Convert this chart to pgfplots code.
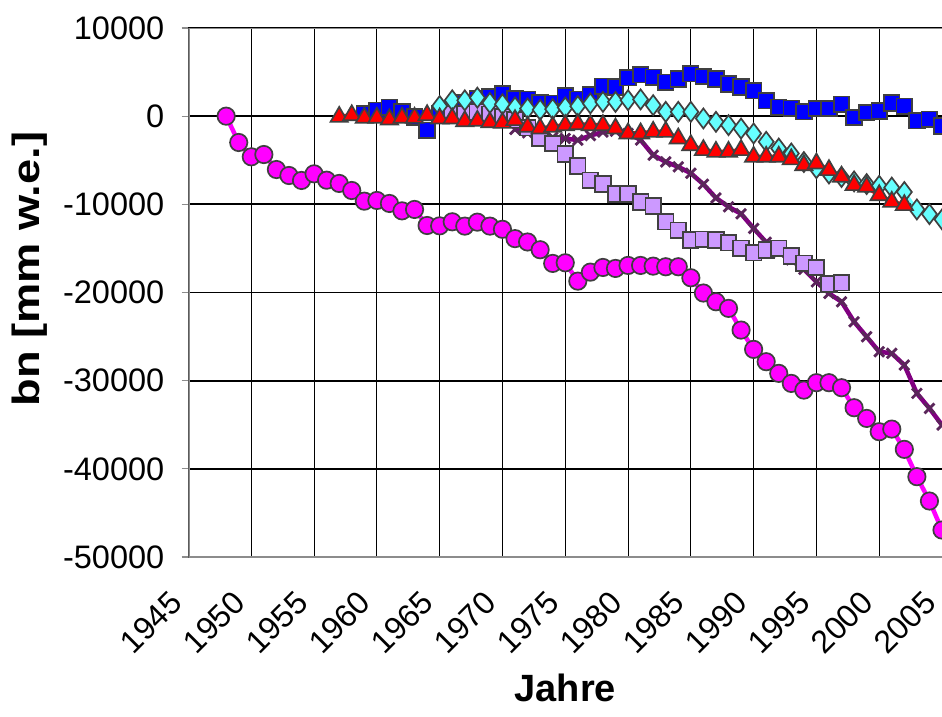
\documentclass[border=0pt]{standalone}
\usepackage{pgfplots}
\pgfplotsset{compat=1.18}
\usepackage{fontspec}
\setmainfont{Liberation Sans}
\definecolor{mag}{HTML}{FF00FF}
\definecolor{blu}{HTML}{0000FF}
\definecolor{cya}{HTML}{66FFFF}
\definecolor{rd}{HTML}{FF0000}
\definecolor{lav}{HTML}{CC99FF}
\definecolor{pur}{HTML}{800080}
\definecolor{edge}{HTML}{404040}
\definecolor{frame}{HTML}{8C8C8C}
\begin{document}
\begin{tikzpicture}
\begin{axis}[
  at={(0,0)}, anchor=south west,
  scale only axis, width=753.5pt, height=529pt,
  xmin=1945, xmax=2005, ymin=-50000, ymax=10000,
  clip mode=global,
  axis line style={draw=none},
  xtick={1945,1950,...,2005},
  xticklabels={1945,1950,1955,1960,1965,1970,1975,1980,1985,1990,1995,2000,2005},
  ytick={-50000,-40000,-30000,-20000,-10000,0,10000},
  yticklabels={-50000,-40000,-30000,-20000,-10000,0,10000},
  scaled y ticks=false, scaled x ticks=false,
  tick align=outside, major tick length=7pt,
  xtick style={draw=none},
  ytick style={draw=frame, line width=1.2pt},
  xmajorgrids, ymajorgrids,
  major x grid style={black, line width=1pt},
  major y grid style={black, line width=1.8pt},
  yticklabel style={font=\fontsize{32.5}{32.5}\selectfont, anchor=east, inner sep=0pt, xshift=-17pt},
  xticklabel style={font=\fontsize{32}{32}\selectfont, xshift=-12pt, yshift=-33pt, rotate=45, anchor=east, inner sep=0pt},
  xlabel={Jahre},
  ylabel={\scalebox{1.19}[1]{bn [mm w.e.]}},
  label style={font=\bfseries\fontsize{38}{38}\selectfont},
  xlabel style={at={(axis description cs:0.5,-0.2476)}, anchor=center},
  ylabel style={at={(axis description cs:-0.2104,0.544)}, anchor=center},
]
% magenta circles
\addplot[mag, line width=4.5pt, mark=*, mark size=8.7pt,
  mark options={draw=edge, fill=mag, line width=1.7pt, solid}] coordinates {
(1948,0) (1949,-2985) (1950,-4610) (1951,-4350) (1952,-6050) (1953,-6730)
(1954,-7290) (1955,-6540) (1956,-7260) (1957,-7630) (1958,-8430) (1959,-9640)
(1960,-9560) (1961,-9900) (1962,-10740) (1963,-10580) (1964,-12400) (1965,-12440)
(1966,-11980) (1967,-12470) (1968,-12020) (1969,-12470) (1970,-12830) (1971,-13890)
(1972,-14270) (1973,-15150) (1974,-16700) (1975,-16630) (1976,-18710) (1977,-17690)
(1978,-17160) (1979,-17270) (1980,-16930) (1981,-16930) (1982,-17010) (1983,-17080)
(1984,-17080) (1985,-18330) (1986,-20060) (1987,-21050) (1988,-21800) (1989,-24260)
(1990,-26450) (1991,-27850) (1992,-29170) (1993,-30310) (1994,-31070) (1995,-30230)
(1996,-30230) (1997,-30800) (1998,-33070) (1999,-34280) (2000,-35790) (2001,-35490)
(2002,-37790) (2003,-40890) (2004,-43650) (2005,-46940)
};
% blue squares
\addplot[blu, line width=3pt, mark=square*, mark size=7.8pt,
  mark options={draw=edge, fill=blu, line width=1.7pt, solid}] coordinates {
(1959,300) (1960,680) (1961,990) (1962,490) (1963,-80) (1964,-1590)
(1965,300) (1966,800) (1967,1500) (1968,2000) (1969,2200) (1970,2550)
(1971,2000) (1972,1900) (1973,1500) (1974,1450) (1975,2300) (1976,1900)
(1977,2450) (1978,3400) (1979,3300) (1980,4350) (1981,4700) (1982,4400)
(1983,3850) (1984,4200) (1985,4800) (1986,4500) (1987,4200) (1988,3650)
(1989,3320) (1990,2900) (1991,1750) (1992,1000) (1993,900) (1994,500)
(1995,870) (1996,870) (1997,1360) (1998,-150) (1999,420) (2000,600)
(2001,1500) (2002,1130) (2003,-530) (2004,-370) (2005,-1130)
};
% purple x
\addplot[pur, line width=4.5pt, mark=x, mark size=7pt,
  mark options={draw=edge!60!pur, line width=2.8pt, solid}] coordinates {
(1971,-1500) (1972,-1900) (1973,-2200) (1974,-2400) (1975,-2530) (1976,-2720)
(1977,-2200) (1978,-1800) (1979,-1700) (1980,-1950) (1981,-2700) (1982,-4420)
(1983,-5180) (1984,-5750) (1985,-6470) (1986,-7720) (1987,-9270) (1988,-10280)
(1989,-11070) (1990,-12730) (1991,-14300) (1992,-15400) (1993,-16300) (1994,-17380)
(1995,-18790) (1996,-20100) (1997,-21050) (1998,-23320) (1999,-25020) (2000,-26720)
(2001,-26900) (2002,-28230) (2003,-31440) (2004,-33140) (2005,-35030)
};
% lavender squares
\addplot[lav, line width=3pt, mark=square*, mark size=7.8pt,
  mark options={draw=edge, fill=lav, line width=1.7pt, solid}] coordinates {
(1966,300) (1967,300) (1968,500) (1969,200) (1970,-100) (1971,-400) (1972,-1300)
(1973,-2500) (1974,-3100) (1975,-4300) (1976,-5650) (1977,-7260) (1978,-7710)
(1979,-8840) (1980,-8840) (1981,-9720) (1982,-10200) (1983,-11980) (1984,-12930)
(1985,-14060) (1986,-13970) (1987,-14060) (1988,-14360) (1989,-15000) (1990,-15500)
(1991,-15190) (1992,-15000) (1993,-15870) (1994,-16700) (1995,-17160) (1996,-19050)
(1997,-18900)
};
% cyan diamonds
\addplot[cya, line width=3pt, mark=diamond*, mark size=10pt,
  mark options={draw=edge, fill=cya, line width=1.7pt, solid}] coordinates {
(1965,1150) (1966,1800) (1967,1800) (1968,2100) (1969,1500) (1970,1350)
(1971,1000) (1972,870) (1973,720) (1974,800) (1975,990) (1976,1130)
(1977,1440) (1978,1620) (1979,1620) (1980,1810) (1981,1900) (1982,1250)
(1983,490) (1984,490) (1985,490) (1986,-260) (1987,-640) (1988,-1020)
(1989,-1400) (1990,-1960) (1991,-2910) (1992,-3670) (1993,-4230) (1994,-5200)
(1995,-5900) (1996,-6500) (1997,-6900) (1998,-7400) (1999,-7700) (2000,-7900)
(2001,-8100) (2002,-8600) (2003,-10580) (2004,-11110) (2005,-11710)
};
% red triangles
\addplot[rd, line width=4.5pt, mark=triangle*, mark size=10pt,
  mark options={draw=edge, fill=rd, line width=1.7pt, solid}] coordinates {
(1957,-80) (1958,100) (1959,-190) (1960,-190) (1961,-370) (1962,-190)
(1963,-190) (1964,110) (1965,-260) (1966,-260) (1967,-570) (1968,-530)
(1969,-700) (1970,-760) (1971,-450) (1972,-1210) (1973,-1400) (1974,-1210)
(1975,-1020) (1976,-910) (1977,-1020) (1978,-1020) (1979,-1400) (1980,-1960)
(1981,-1960) (1982,-1780) (1983,-1780) (1984,-2530) (1985,-3290) (1986,-3850)
(1987,-4050) (1988,-4050) (1989,-3850) (1990,-4610) (1991,-4610) (1992,-4610)
(1993,-4900) (1994,-5560) (1995,-5370) (1996,-6120) (1997,-6880) (1998,-7820)
(1999,-8010) (2000,-8960) (2001,-9720) (2002,-10090)
};
\draw[frame, line width=2.5pt] (rel axis cs:1,1) -- (rel axis cs:0,1) -- (rel axis cs:0,0) -- (rel axis cs:1,0);
\end{axis}
\pgfresetboundingbox
\useasboundingbox (-188.5pt,-160pt) rectangle (753.5pt,557pt);
\end{tikzpicture}
\end{document}
